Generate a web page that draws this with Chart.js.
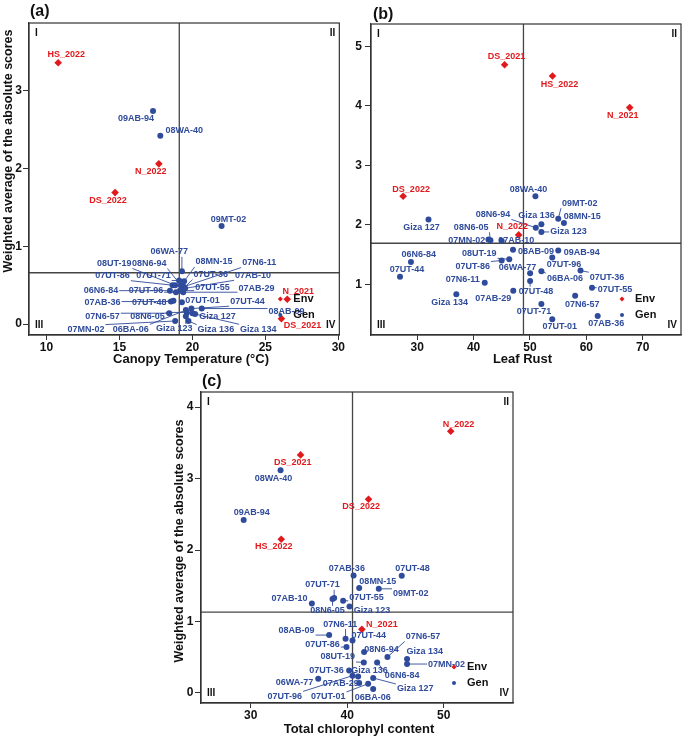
<!DOCTYPE html>
<html>
<head>
<meta charset="utf-8">
<script src="https://cdn.jsdelivr.net/npm/chart.js@4.4.0/dist/chart.umd.min.js"></script>
<style>
  body { margin: 0; background: #fff; width: 685px; height: 739px; position: relative; overflow: hidden; }
  canvas { position: absolute; }
</style>
</head>
<body>
<canvas id="chartA" width="345" height="370" style="left:0px;top:0px"></canvas>
<canvas id="chartB" width="340" height="370" style="left:345px;top:0px"></canvas>
<canvas id="chartC" width="430" height="369" style="left:130px;top:370px"></canvas>
<script>
// genotypes and environments (same order in every panel)
const genotypes = ['06BA-06','06N6-84','06WA-77','07AB-10','07AB-29','07AB-36','07MN-02','07N6-11','07N6-57','07UT-01',
  '07UT-36','07UT-44','07UT-48','07UT-55','07UT-71','07UT-86','07UT-96','08AB-09','08MN-15','08N6-05',
  '08N6-94','08UT-19','08WA-40','09AB-94','09MT-02','Giza 123','Giza 127','Giza 134','Giza 136'];
const environments = ['HS_2022','N_2022','DS_2022','N_2021','DS_2021'];

// (a) canopy temperature vs weighted average of absolute scores
const canopyGen = [19.55,18.46,19.28,19.50,19.37,18.53,18.82,19.40,18.41,19.28,
  19.33,19.93,18.70,19.14,19.09,18.64,18.87,20.64,19.43,19.62,
  19.21,18.82,17.8,17.3,22.0,19.55,20.0,20.18,19.73];
const scoreGenA = [0.18,0.43,0.68,0.46,0.41,0.29,0.04,0.48,0.14,0.28,
  0.45,0.20,0.30,0.43,0.56,0.50,0.41,0.20,0.55,0.15,
  0.50,0.50,2.42,2.74,1.26,0.10,0.14,0.13,0.04];
const canopyEnv = [10.8,17.7,14.7,26.5,26.1];
const scoreEnvA = [3.36,2.06,1.69,0.32,0.07];
const meanA = [19.1, 0.66];
const ticksAx = [10,15,20,25,30];
const ticksAy = [0,1,2,3];

// (b) leaf rust
const rustGen = [52.03,28.89,50.03,44.98,47.04,62.02,42.64,41.98,58.02,53.96,
  58.97,26.95,50.03,61.01,52.03,44.98,53.96,46.99,56.03,42.99,
  51.04,46.33,50.97,55.02,55.02,52.03,32.0,36.94,52.03];
const scoreGenB = [1.22,1.375,1.185,1.73,0.892,0.467,1.755,1.027,0.808,0.412,
  1.23,1.128,1.055,0.943,0.669,1.40,1.45,1.58,2.03,1.74,
  1.95,1.42,2.48,1.57,2.10,1.88,2.09,0.832,2.01];
const rustEnv = [54.0,48.0,27.5,67.7,45.5];
const scoreEnvB = [4.50,1.83,2.48,3.97,4.69];
const meanB = [48.85, 1.69];
const ticksBx = [30,40,50,60,70];
const ticksBy = [1,2,3,4,5];

// (c) total chlorophyll content
const chlGen = [42.69,43.1,37.0,36.34,41.24,40.66,46.2,39.83,44.17,42.17,
  40.2,40.55,45.65,39.58,38.65,39.93,40.55,38.13,41.24,38.48,
  41.75,41.72,33.10,29.28,43.27,40.24,42.69,46.2,41.13];
const scoreGenC = [0.056,0.428,0.2,1.252,0.14,1.643,0.405,0.759,0.503,0.13,
  0.316,0.735,1.639,1.29,1.327,0.643,0.242,0.81,1.467,1.313,
  0.573,0.428,3.115,2.42,1.457,1.21,0.21,0.475,0.232];
const chlEnv = [33.17,50.72,42.21,41.52,35.17];
const scoreEnvC = [2.15,3.66,2.71,0.89,3.33];
const meanC = [40.55, 1.13];
const ticksCx = [30,40,50];
const ticksCy = [0,1,2,3,4];

// label placement (pixel offsets of label centre from its point)
const labelOffA = {
  '06BA-06':[-55,19.3],'06N6-84':[-69,0],'06WA-77':[-12.7,-19.3],'07AB-10':[68,-13],'07AB-29':[73.3,-3.7],
  '07AB-36':[-68.4,0.6],'07MN-02':[-89.3,8.6],'07N6-11':[75.5,-24.2],'07N6-57':[-66.7,3.4],'07UT-01':[20.6,-1.7],
  '07UT-36':[28.2,-14.5],'07UT-44':[56,-7.3],'07UT-48':[-24.3,1.3],'07UT-55':[32.6,-2.7],'07UT-71':[-25.7,-4.7],
  '07UT-86':[-60,-9.5],'07UT-96':[-30,-1.6],'08AB-09':[84.8,2.7],'08MN-15':[30,-19.4],'08N6-05':[-39.4,4],
  '08N6-94':[-31.7,-21.7],'08UT-19':[-61,-21.7],'08WA-40':[24,-5],'09AB-94':[-17,8],'09MT-02':[7,-7],
  'Giza 123':[-11.7,12.6],'Giza 127':[25,3.4],'Giza 134':[63.3,15.3],'Giza 136':[27.4,8.6],
  'HS_2022':[8,-8],'N_2022':[-8,8],'DS_2022':[-7,8],'N_2021':[11,-8],'DS_2021':[21,7]
};
const labelOffB = {
  '06BA-06':[23.5,7],'06N6-84':[7.7,-7],'06WA-77':[-12.7,-5.6],'07AB-10':[14.7,0],'07AB-29':[-20,7.6],
  '07AB-36':[8.5,7.3],'07MN-02':[-21.8,1.3],'07N6-11':[-22,-3.4],'07N6-57':[7.2,8.3],'07UT-01':[7.5,7.4],
  '07UT-36':[26.6,6.6],'07UT-44':[7,-7.4],'07UT-48':[6,10.7],'07UT-55':[23,2.3],'07UT-71':[-7.3,7.7],
  '07UT-86':[-29,6],'07UT-96':[11.7,7.3],'08AB-09':[23,1.7],'08MN-15':[18.3,-6.6],'08N6-05':[-19.3,-13],
  '08N6-94':[-42.7,-13.4],'08UT-19':[-30,-6],'08WA-40':[-7,-7],'09AB-94':[23.5,2],'09MT-02':[21.5,-15.7],
  'Giza 123':[27,0],'Giza 127':[-7,8],'Giza 134':[-6.7,8],'Giza 136':[-4.8,-9],
  'HS_2022':[7,8],'N_2022':[-6.5,-8],'DS_2022':[8,-7],'N_2021':[-7,8],'DS_2021':[2,-8]
};
const labelOffC = {
  '06BA-06':[-0.5,8.4],'06N6-84':[25,13],'06WA-77':[-23.8,4.3],'07AB-10':[-22.3,-5.4],'07AB-29':[-18.5,1],
  '07AB-36':[-6.7,-7.4],'07MN-02':[39.4,0],'07N6-11':[-5.2,-14.7],'07N6-57':[35.6,-20.6],'07UT-01':[-40,13.3],
  '07UT-36':[-22.7,0],'07UT-44':[16.3,-4.7],'07UT-48':[10.7,-7.7],'07UT-55':[23.4,-3.3],'07UT-71':[-11.6,-13.3],
  '07UT-86':[-24,-2.3],'07UT-96':[-67.7,20.7],'08AB-09':[-32.6,-4.3],'08MN-15':[18.7,-6.6],'08N6-05':[-5,11.7],
  '08N6-94':[17.4,-2.3],'08UT-19':[-26,-5.4],'08WA-40':[-7,8],'09AB-94':[8,-7],'09MT-02':[32,5],
  'Giza 123':[22.6,4.3],'Giza 127':[42,11],'Giza 134':[17.7,-7.6],'Giza 136':[11.4,-6],
  'HS_2022':[-7.5,7.6],'N_2022':[7.7,-7],'DS_2022':[-7.4,7.7],'N_2021':[20,-5.3],'DS_2021':[-7.7,7.7]
};

const BLUE = '#2f4b9b';
const RED = '#e2191c';
const FONT = '"Liberation Sans", Arial, sans-serif';

function panelPlugin(p) {
  return {
    id: 'panel' + p.letter,
    beforeDatasetsDraw(chart) {
      const { ctx, chartArea: a, scales: { x, y } } = chart;
      ctx.save();
      // mean lines
      const mx = x.getPixelForValue(p.mean[0]);
      const my = y.getPixelForValue(p.mean[1]);
      ctx.strokeStyle = '#454545';
      ctx.lineWidth = 1.3;
      ctx.beginPath();
      ctx.moveTo(mx, a.top); ctx.lineTo(mx, a.bottom);
      ctx.moveTo(a.left, my); ctx.lineTo(a.right, my);
      ctx.stroke();
      // leader segments
      ctx.font = 'bold 9px ' + FONT;
      ctx.lineWidth = 0.9;
      p.items.forEach(it => {
        const px = x.getPixelForValue(it.x), py = y.getPixelForValue(it.y);
        const off = p.offsets[it.name];
        const cx = px + off[0], cy = py + off[1];
        const hw = ctx.measureText(it.name).width / 2 + 1, hh = 5;
        const nx = Math.max(cx - hw, Math.min(px, cx + hw));
        const ny = Math.max(cy - hh, Math.min(py, cy + hh));
        if (Math.hypot(nx - px, ny - py) > 4.5) {
          ctx.strokeStyle = it.color;
          ctx.beginPath(); ctx.moveTo(px, py); ctx.lineTo(nx, ny); ctx.stroke();
        }
      });
      ctx.restore();
    },
    afterDatasetsDraw(chart) {
      const { ctx, chartArea: a, scales: { x, y } } = chart;
      ctx.save();
      // point labels
      ctx.font = 'bold 9px ' + FONT;
      ctx.textAlign = 'center';
      ctx.textBaseline = 'middle';
      p.items.forEach(it => {
        const px = x.getPixelForValue(it.x), py = y.getPixelForValue(it.y);
        const off = p.offsets[it.name];
        ctx.fillStyle = it.color;
        ctx.fillText(it.name, px + off[0], py + off[1]);
      });
      // frame
      ctx.strokeStyle = '#333';
      ctx.lineWidth = 1.2;
      ctx.strokeRect(a.left, a.top, a.right - a.left, a.bottom - a.top);
      // quadrant numerals
      ctx.fillStyle = '#111';
      ctx.font = 'bold 10px ' + FONT;
      ctx.textAlign = 'left';
      ctx.fillText('I', a.left + 6, a.top + 10);
      ctx.fillText('III', a.left + 6, a.bottom - 10);
      ctx.textAlign = 'right';
      ctx.fillText('II', a.right - 4, a.top + 10);
      ctx.fillText('IV', a.right - 4, a.bottom - 10);
      // legend
      const lx = a.right - 59;
      ctx.fillStyle = RED;
      ctx.beginPath();
      ctx.moveTo(lx, a.bottom - 38.5); ctx.lineTo(lx + 2.5, a.bottom - 36);
      ctx.lineTo(lx, a.bottom - 33.5); ctx.lineTo(lx - 2.5, a.bottom - 36);
      ctx.closePath(); ctx.fill();
      ctx.fillStyle = BLUE;
      ctx.beginPath(); ctx.arc(lx, a.bottom - 20, 2, 0, Math.PI * 2); ctx.fill();
      ctx.fillStyle = '#111';
      ctx.font = 'bold 11px ' + FONT;
      ctx.textAlign = 'left';
      ctx.fillText('Env', lx + 13, a.bottom - 36);
      ctx.fillText('Gen', lx + 13, a.bottom - 20);
      // panel letter and axis titles
      ctx.font = 'bold 16px ' + FONT;
      ctx.fillText('(' + p.letter + ')', p.letterPos[0], p.letterPos[1]);
      ctx.font = 'bold 13px ' + FONT;
      ctx.textAlign = 'center';
      ctx.fillText(p.xTitle, p.xTitlePos[0], p.xTitlePos[1]);
      if (p.yTitle) {
        ctx.font = 'bold 12.5px ' + FONT;
        ctx.translate(p.yTitlePos[0], p.yTitlePos[1]);
        ctx.rotate(-Math.PI / 2);
        ctx.fillText(p.yTitle, 0, 0);
      }
      ctx.restore();
    }
  };
}

function makePanel(cfg) {
  const items = genotypes.map((g, i) => ({ name: g, x: cfg.gx[i], y: cfg.gy[i], color: BLUE }))
    .concat(environments.map((e, i) => ({ name: e, x: cfg.ex[i], y: cfg.ey[i], color: RED })));
  const tickFont = { family: FONT, size: 12, weight: 'bold' };
  return new Chart(document.getElementById(cfg.id), {
    type: 'scatter',
    data: {
      datasets: [
        {
          label: 'Gen',
          data: cfg.gx.map((v, i) => ({ x: v, y: cfg.gy[i] })),
          pointStyle: 'circle', pointRadius: 3, pointBorderWidth: 0,
          backgroundColor: BLUE, borderColor: BLUE
        },
        {
          label: 'Env',
          data: cfg.ex.map((v, i) => ({ x: v, y: cfg.ey[i] })),
          pointStyle: 'rectRot', pointRadius: 3.8, pointBorderWidth: 0,
          backgroundColor: RED, borderColor: RED
        }
      ]
    },
    options: {
      responsive: false,
      animation: false,
      layout: { padding: cfg.padding },
      plugins: { legend: { display: false }, tooltip: { enabled: false } },
      scales: {
        x: {
          type: 'linear', min: cfg.xRange[0], max: cfg.xRange[1],
          afterFit: s => { s.height = cfg.xH; },
          afterBuildTicks: s => { s.ticks = cfg.xTicks.map(v => ({ value: v })); },
          grid: { drawOnChartArea: false, drawTicks: true, tickLength: 5, color: '#333' },
          border: { display: true, color: '#333', width: 1.2 },
          ticks: { font: tickFont, color: '#111', padding: 0, maxRotation: 0, autoSkip: false }
        },
        y: {
          type: 'linear', min: cfg.yRange[0], max: cfg.yRange[1],
          afterFit: s => { s.width = cfg.yW; },
          afterBuildTicks: s => { s.ticks = cfg.yTicks.map(v => ({ value: v })); },
          grid: { drawOnChartArea: false, drawTicks: true, tickLength: 6, color: '#333' },
          border: { display: true, color: '#333', width: 1.2 },
          ticks: { font: tickFont, color: '#111', padding: cfg.yPad, autoSkip: false }
        }
      }
    },
    plugins: [panelPlugin({
      letter: cfg.letter, letterPos: cfg.letterPos, mean: cfg.mean, items: items, offsets: cfg.offsets,
      xTitle: cfg.xTitle, xTitlePos: cfg.xTitlePos, yTitle: cfg.yTitle, yTitlePos: cfg.yTitlePos
    })]
  });
}

makePanel({
  id: 'chartA', letter: 'a', letterPos: [30, 12],
  gx: canopyGen, gy: scoreGenA, ex: canopyEnv, ey: scoreEnvA, mean: meanA, offsets: labelOffA,
  xRange: [8.8, 30.07], yRange: [-0.14, 3.87], xTicks: ticksAx, yTicks: ticksAy,
  padding: { left: 0, top: 23, right: 4, bottom: 0 }, xH: 35, yW: 29, yPad: 1,
  xTitle: 'Canopy Temperature (°C)', xTitlePos: [191, 359],
  yTitle: 'Weighted average of the absolute scores', yTitlePos: [8.5, 151]
});
makePanel({
  id: 'chartB', letter: 'b', letterPos: [28, 15],
  gx: rustGen, gy: scoreGenB, ex: rustEnv, ey: scoreEnvB, mean: meanB, offsets: labelOffB,
  xRange: [21.8, 76.8], yRange: [0.148, 5.375], xTicks: ticksBx, yTicks: ticksBy,
  padding: { left: 0, top: 24, right: 2, bottom: 0 }, xH: 35, yW: 26, yPad: 3,
  xTitle: 'Leaf Rust', xTitlePos: [177.5, 359],
  yTitle: null, yTitlePos: null
});
makePanel({
  id: 'chartC', letter: 'c', letterPos: [72, 12],
  gx: chlGen, gy: scoreGenC, ex: chlEnv, ey: scoreEnvC, mean: meanC, offsets: labelOffC,
  xRange: [24.86, 57.17], yRange: [-0.14, 4.21], xTicks: ticksCx, yTicks: ticksCy,
  padding: { left: 0, top: 22, right: 47, bottom: 0 }, xH: 36, yW: 71, yPad: 1.5,
  xTitle: 'Total chlorophyl content', xTitlePos: [229, 359],
  yTitle: 'Weighted average of the absolute scores', yTitlePos: [49.5, 171]
});
</script>
</body>
</html>
